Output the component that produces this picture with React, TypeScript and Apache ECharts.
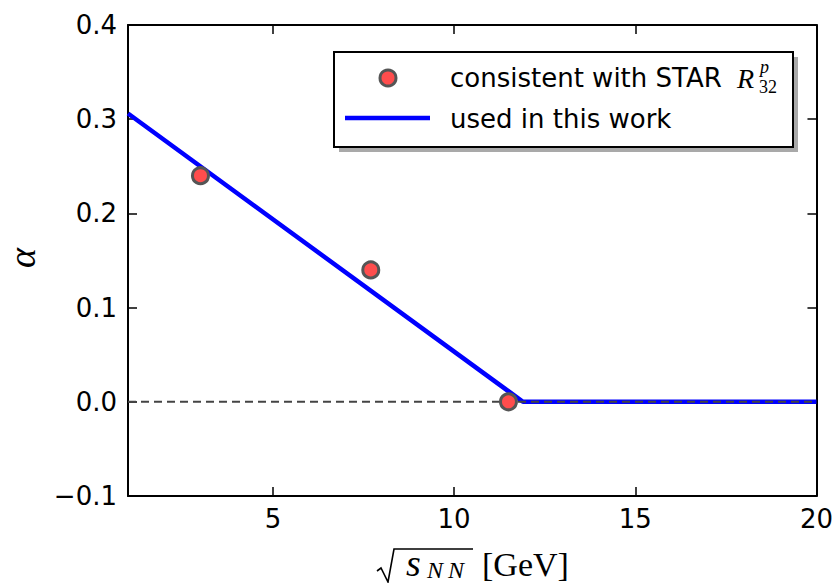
import React, { useEffect, useRef } from "react";
import * as echarts from "echarts";

// Data
const starX = [3.0, 7.7, 11.5];
const starAlpha = [0.24, 0.14, 0.0];
const modelX = [1, 11.9, 20];
const modelAlpha = [0.306, 0.0, 0.0];
const refX = [1, 20];
const refAlpha = [0, 0];
const xTickValues = [5, 10, 15, 20];
const yTickValues = [-0.1, 0.0, 0.1, 0.2, 0.3, 0.4];
const legendLabels = ["consistent with STAR", "used in this work"];

const SANS = "'DejaVu Sans', 'Bitstream Vera Sans', sans-serif";
const SERIF = "'Liberation Serif', 'DejaVu Serif', serif";

export default function App() {
  const ref = useRef<HTMLDivElement>(null);
  useEffect(() => {
    if (!ref.current) return;
    const chart = echarts.init(ref.current, null, { renderer: "svg" });
    const zip = (xs: number[], ys: number[]) => xs.map((x, i) => [x, ys[i]]);
    const fmtY = (v: number) => {
      const s = Math.abs(v).toFixed(1);
      return v < -1e-9 ? "\u2212" + s : s;
    };
    const axisLine = { show: true, onZero: false, lineStyle: { color: "#000", width: 2 } };
    const tick = { show: true, inside: true, length: 9, lineStyle: { color: "#000", width: 1.5 } };
    chart.setOption({
      animation: false,
      backgroundColor: "#fff",
      grid: { left: 128, right: 16, top: 25, bottom: 87, containLabel: false },
      xAxis: [
        {
          type: "value",
          position: "bottom",
          min: 1,
          max: 20,
          axisLine,
          axisTick: { ...tick, customValues: xTickValues },
          axisLabel: {
            customValues: xTickValues,
            fontFamily: SANS,
            fontSize: 26,
            color: "#000",
            margin: 10,
          },
          splitLine: { show: false },
        },
        {
          type: "value",
          position: "top",
          min: 1,
          max: 20,
          axisLine,
          axisTick: { ...tick, customValues: xTickValues },
          axisLabel: { show: false, customValues: xTickValues },
          splitLine: { show: false },
        },
      ],
      yAxis: [
        {
          type: "value",
          position: "left",
          min: yTickValues[0],
          max: yTickValues[yTickValues.length - 1],
          interval: 0.1,
          axisLine,
          axisTick: tick,
          axisLabel: {
            fontFamily: SANS,
            fontSize: 26,
            color: "#000",
            margin: 11,
            formatter: fmtY,
          },
          splitLine: { show: false },
        },
        {
          type: "value",
          position: "right",
          min: yTickValues[0],
          max: yTickValues[yTickValues.length - 1],
          interval: 0.1,
          axisLine,
          axisTick: tick,
          axisLabel: { show: false },
          splitLine: { show: false },
        },
      ],
      series: [
        {
          name: legendLabels[1],
          type: "line",
          data: zip(modelX, modelAlpha),
          symbol: "none",
          lineStyle: { color: "#0000ff", width: 4.5 },
          z: 2,
          clip: true,
        },
        {
          name: "reference",
          type: "line",
          data: zip(refX, refAlpha),
          symbol: "none",
          lineStyle: { color: "#444", width: 2, type: [8, 5] },
          z: 3,
        },
        {
          name: legendLabels[0],
          type: "scatter",
          data: zip(starX, starAlpha),
          symbol: "circle",
          symbolSize: 16,
          itemStyle: { color: "#ff4d4d", borderColor: "#555", borderWidth: 3, opacity: 1 },
          z: 4,
        },
      ],
      graphic: [
        // legend shadow + box
        { type: "rect", shape: { x: 339, y: 57, width: 459, height: 95 }, style: { fill: "#a9a9a9" }, z: 10 },
        { type: "rect", shape: { x: 334, y: 52, width: 459, height: 95 }, style: { fill: "#fff", stroke: "#000", lineWidth: 2 }, z: 11 },
        { type: "circle", shape: { cx: 388, cy: 78, r: 8 }, style: { fill: "#ff4d4d", stroke: "#555", lineWidth: 3 }, z: 12 },
        { type: "line", shape: { x1: 345, y1: 118, x2: 430, y2: 118 }, style: { stroke: "#0000ff", lineWidth: 4.5 }, z: 12 },
        {
          type: "text", x: 450, y: 78, z: 12,
          style: { text: legendLabels[0], font: `26px ${SANS}`, fill: "#000", verticalAlign: "middle", align: "left" },
        },
        {
          type: "text", x: 737, y: 78, z: 12,
          style: { text: "R", font: `italic 28px ${SERIF}`, fill: "#000", verticalAlign: "middle", align: "left" },
        },
        {
          type: "text", x: 760, y: 67, z: 12,
          style: { text: "p", font: `italic 18px ${SERIF}`, fill: "#000", verticalAlign: "middle", align: "left" },
        },
        {
          type: "text", x: 759, y: 87, z: 12,
          style: { text: "32", font: `18px ${SERIF}`, fill: "#000", verticalAlign: "middle", align: "left" },
        },
        {
          type: "text", x: 450, y: 119, z: 12,
          style: { text: legendLabels[1], font: `26px ${SANS}`, fill: "#000", verticalAlign: "middle", align: "left" },
        },
        // y axis label
        {
          type: "text", x: 22, y: 258, rotation: Math.PI / 2, z: 12,
          style: { text: "\u03b1", font: `italic 38px ${SERIF}`, fill: "#000", verticalAlign: "middle", align: "center" },
        },
        // x axis label: sqrt(s_NN) [GeV]
        {
          type: "polyline", z: 12,
          shape: { points: [[377, 571], [381, 568], [388, 582], [394, 549], [473, 549]] },
          style: { stroke: "#000", lineWidth: 1.6, fill: "none" },
        },
        {
          type: "text", x: 406, y: 563, z: 12,
          style: { text: "s", font: `italic 38px ${SERIF}`, fill: "#000", verticalAlign: "middle", align: "left" },
        },
        {
          type: "text", x: 427, y: 570, z: 12,
          style: { text: "N", font: `italic 24px ${SERIF}`, fill: "#000", verticalAlign: "middle", align: "left" },
        },
        {
          type: "text", x: 448, y: 570, z: 12,
          style: { text: "N", font: `italic 24px ${SERIF}`, fill: "#000", verticalAlign: "middle", align: "left" },
        },
        {
          type: "text", x: 482, y: 564, z: 12,
          style: { text: "[GeV]", font: `34px ${SERIF}`, fill: "#000", verticalAlign: "middle", align: "left" },
        },
      ],
    });
    return () => chart.dispose();
  }, []);
  return <div ref={ref} style={{ width: 836, height: 583, position: "absolute", left: 0, top: 0 }} />;
}
